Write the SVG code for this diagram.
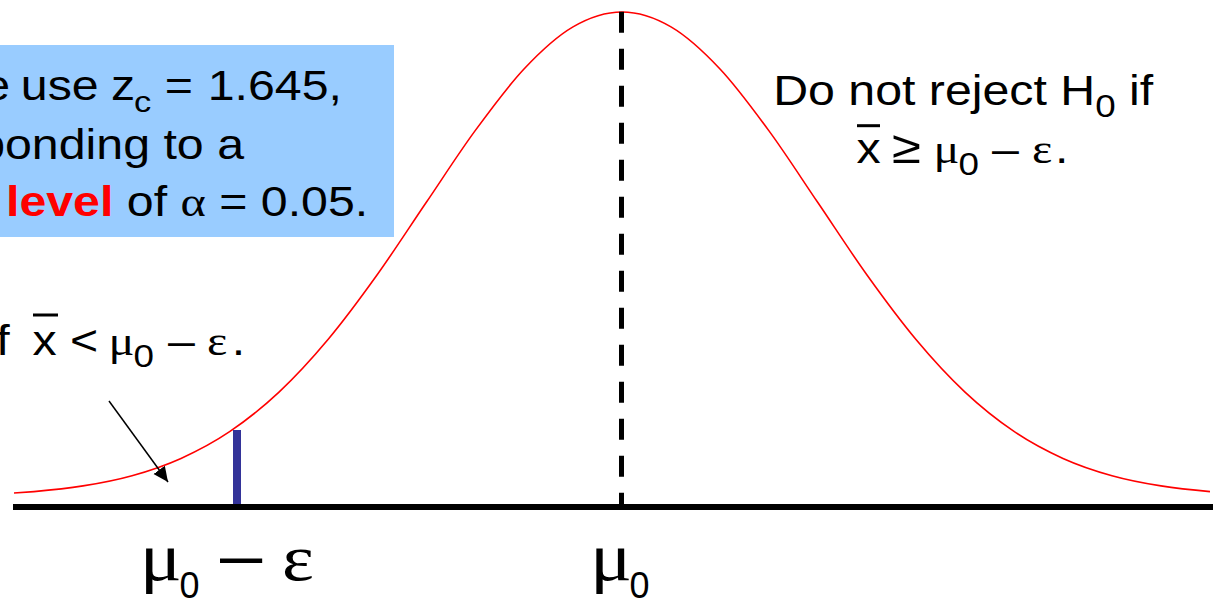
<svg xmlns="http://www.w3.org/2000/svg" width="1213" height="598" viewBox="0 0 1213 598">
<style>
.s{font-family:"Liberation Sans",Arial,sans-serif;fill:#000}
.g{font-family:"Liberation Serif","Times New Roman",serif;fill:#000}
.b42{font-size:42px}
.red{fill:#ff0000;font-weight:bold}
.curve{fill:none;stroke:#ff0000;stroke-width:1.6}
.bar{stroke:#000;stroke-width:3}
</style>
<defs>
<marker id="ah" markerUnits="userSpaceOnUse" markerWidth="16" markerHeight="16" refX="15" refY="7" orient="auto">
<path d="M0,0 L15,7 L0,14 Z" fill="#000"/>
</marker>
</defs>
<rect width="1213" height="598" fill="#fff"/>

<g id="infobox">
<rect x="-1" y="45" width="395" height="192" fill="#99CCFF"/>
<g transform="scale(1.15,1)">
<text class="s b42" x="-14.5" y="100">e</text>
<text class="s b42" x="18.1" y="100">use</text>
<text class="s b42" x="96.5" y="100">z</text>
<text class="s" font-size="30" x="116.5" y="112">c</text>
<text class="s b42" x="143.2" y="100">=</text>
<text class="s b42" x="180.6" y="100">1.645,</text>
<text class="s b42" x="-19" y="159">ponding to a</text>
<text class="s b42" x="5.2" y="216"><tspan class="red">level</tspan> of <tspan class="g">α</tspan> = 0.05.</text>
</g>
</g>

<g id="curve">
<path class="curve" d="M14,493 L34,491.6 C50.33,490.17 66.67,488.55 83,485.9 C99.33,483.25 115.67,480.28 132,475.7 C148.33,471.12 164.67,465.78 181,458.4 C197.33,451.02 213.67,442.45 230,431.4 C246.33,420.35 262.67,407.42 279,392.1 C295.33,376.78 311.67,359.02 328,339.5 C344.33,319.98 360.67,297.78 377,275 C393.33,252.22 409.67,226.82 426,202.8 C442.33,178.78 458.67,153.2 475,130.9 C491.33,108.6 507.67,86.33 524,69 C540.33,51.67 556.67,36.4 573,26.9 C589.33,17.4 605.67,12 622,12 C638.33,12 654.67,17.4 671,26.9 C687.33,36.4 703.67,51.67 720,69 C736.33,86.33 752.67,108.6 769,130.9 C785.33,153.2 801.67,178.78 818,202.8 C834.33,226.82 850.67,252.22 867,275 C883.33,297.78 899.67,319.98 916,339.5 C932.33,359.02 948.67,376.78 965,392.1 C981.33,407.42 997.67,420.35 1014,431.4 C1030.33,442.45 1046.67,451.02 1063,458.4 C1079.33,465.78 1095.67,471.12 1112,475.7 C1128.33,480.28 1144.67,483.25 1161,485.9 C1177.33,488.55 1193.67,490.17 1210,491.6"/>
</g>

<g id="mean-line">
<line x1="621.5" y1="11.7" x2="621.5" y2="506" stroke="#000" stroke-width="5" stroke-dasharray="21 16"/>
</g>

<g id="critical-bar">
<rect x="233" y="430" width="8" height="76" fill="#333399"/>
</g>

<g id="axis">
<line x1="13" y1="507" x2="1213" y2="507" stroke="#000" stroke-width="6"/>
</g>

<g id="accept-label">
<g transform="scale(1.15,1)">
<text class="s b42" x="672.3" y="105">Do not reject H<tspan font-size="32" dy="12">0</tspan><tspan dy="-12"> if</tspan></text>
<text class="s b42" x="744.9" y="163">x</text>
<text class="s" font-size="46" x="775.5" y="163">≥</text>
<text class="g b42" x="811.8" y="163">μ</text>
<text class="s" font-size="32" x="833.5" y="175">0</text>
<text class="s b42" x="862.6" y="163">–</text>
<text class="g b42" x="897.4" y="163">ε</text>
<text class="s b42" x="917.5" y="163">.</text>
</g>
<line class="bar" x1="857" y1="125.7" x2="880" y2="125.7"/>
</g>

<g id="reject-label">
<g transform="scale(1.15,1)">
<text class="s b42" x="-3.2" y="355">f</text>
<text class="s b42" x="28.3" y="355">x</text>
<text class="s b42" x="60.9" y="355">&lt;</text>
<text class="g b42" x="94.4" y="355">μ</text>
<text class="s" font-size="32" x="116.1" y="367">0</text>
<text class="s b42" x="146.1" y="355">–</text>
<text class="g b42" x="180" y="355">ε</text>
<text class="s b42" x="201.5" y="355">.</text>
</g>
<line class="bar" x1="33" y1="315" x2="58" y2="315"/>
</g>

<g id="label-critical">
<g transform="scale(1.15,1)">
<text class="g" font-size="68" x="121.5" y="580">μ</text>
<text class="s" font-size="66" x="191.3" y="578">–</text>
<text class="g" font-size="66" x="245.2" y="580">ε</text>
</g>
<text class="s" font-size="36" x="179.5" y="598">0</text>
</g>

<g id="label-mean">
<g transform="scale(1.15,1)">
<text class="g" font-size="68" x="513" y="580">μ</text>
</g>
<text class="s" font-size="36" x="629.5" y="598">0</text>
</g>

<g id="connectors">
<line x1="109" y1="401" x2="168" y2="482" stroke="#000" stroke-width="1.5" marker-end="url(#ah)"/>
</g>
</svg>
